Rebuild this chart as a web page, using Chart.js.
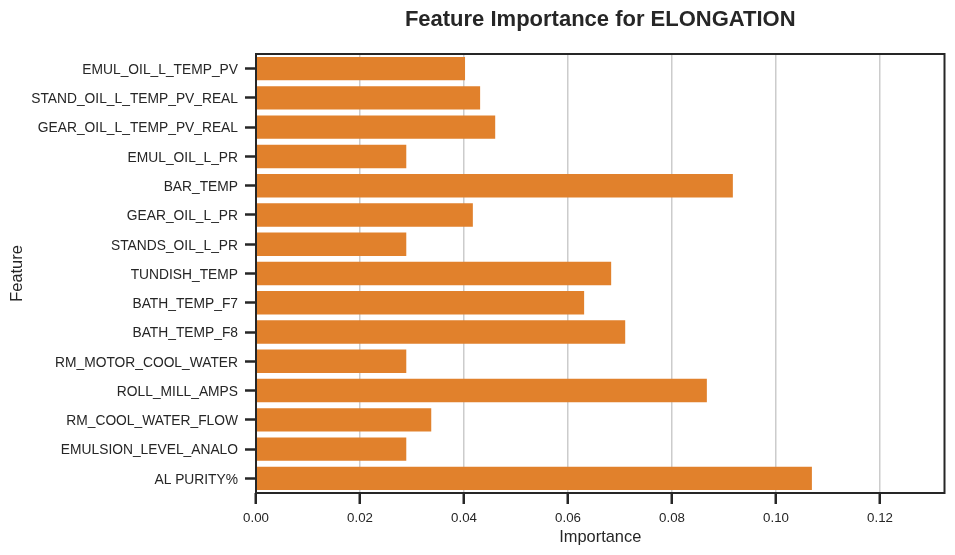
<!DOCTYPE html>
<html><head><meta charset="utf-8">
<script src="https://cdn.jsdelivr.net/npm/chart.js@4.4.0/dist/chart.umd.min.js"></script>
<style>html,body{margin:0;padding:0;background:#fff}#wrap{width:955px;height:555px}</style>
</head><body><div id="wrap"><canvas id="c" width="955" height="555"></canvas></div>
<script>
const features = ["EMUL_OIL_L_TEMP_PV","STAND_OIL_L_TEMP_PV_REAL","GEAR_OIL_L_TEMP_PV_REAL","EMUL_OIL_L_PR","BAR_TEMP","GEAR_OIL_L_PR","STANDS_OIL_L_PR","TUNDISH_TEMP","BATH_TEMP_F7","BATH_TEMP_F8","RM_MOTOR_COOL_WATER","ROLL_MILL_AMPS","RM_COOL_WATER_FLOW","EMULSION_LEVEL_ANALO","AL PURITY%"];
const importance = [0.0402,0.0431,0.0460,0.0289,0.0917,0.0417,0.0289,0.0683,0.0631,0.0710,0.0289,0.0867,0.0337,0.0289,0.1069];
const chartTitle = "Feature Importance for ELONGATION";
const xTitle = "Importance";
const yTitle = "Feature";
const xMax = 0.1324;

const dark = '#262626';
const fam = '"Liberation Sans", Arial, sans-serif';
const frame = {
  id: 'frame',
  afterDraw(chart) {
    const a = chart.chartArea, ctx = chart.ctx;
    ctx.save();
    ctx.strokeStyle = dark; ctx.lineWidth = 2;
    ctx.strokeRect(a.left, a.top, a.right - a.left, a.bottom - a.top);
    ctx.fillStyle = dark;
    ctx.font = 'bold 22px ' + fam;
    ctx.textAlign = 'center'; ctx.textBaseline = 'middle';
    ctx.fillText(chartTitle, (a.left + a.right) / 2, 19.5);
    ctx.restore();
  }
};

new Chart(document.getElementById('c'), {
  type: 'bar',
  data: { labels: features, datasets: [{ data: importance, backgroundColor: '#e1812c', borderWidth: 0, barPercentage: 0.8, categoryPercentage: 1 }] },
  options: {
    indexAxis: 'y', responsive: false, animation: false, devicePixelRatio: 1,
    layout: { padding: { left: 0, top: 54, right: 10.5, bottom: 0 } },
    plugins: { legend: { display: false }, tooltip: { enabled: false }, title: { display: false } },
    scales: {
      x: {
        type: 'linear', min: 0, max: xMax,
        afterFit(s) { s.height = 62; },
        ticks: { stepSize: 0.02, includeBounds: false, color: dark, padding: 6, font: { family: fam, size: 13.3 }, callback: v => v.toFixed(2), maxRotation: 0 },
        grid: { color: '#cccccc', lineWidth: 1.5, tickColor: dark, tickWidth: 2.5, tickLength: 11 },
        border: { display: false },
        title: { display: true, text: xTitle, color: dark, font: { family: fam, size: 16.4 }, padding: { top: 0, bottom: 8 } }
      },
      y: {
        afterFit(s) { s.width = 256; },
        ticks: { color: dark, padding: 7, labelOffset: 1.5, font: { family: fam, size: 13.8 }, autoSkip: false },
        grid: { offset: false, drawOnChartArea: false, tickColor: dark, tickWidth: 2.5, tickLength: 11 },
        border: { display: false },
        title: { display: true, text: yTitle, color: dark, font: { family: fam, size: 16.4 }, padding: { top: 8, bottom: 0 } }
      }
    }
  },
  plugins: [frame]
});
</script></body></html>
